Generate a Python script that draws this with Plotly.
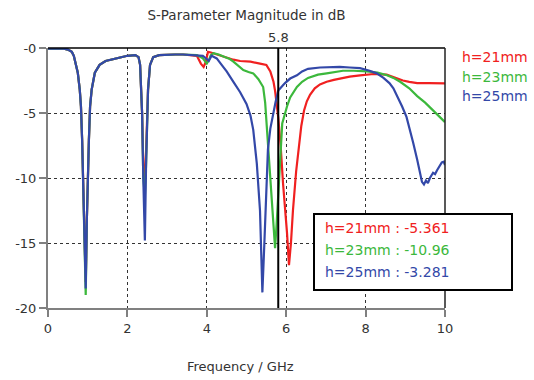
import plotly.graph_objects as go

# ---------------- data ----------------
title_text = "S-Parameter Magnitude in dB"
x_title = "Frequency / GHz"
series_names = ["h=21mm", "h=23mm", "h=25mm"]
series_colors = ["#f02020", "#3cb83c", "#3348a8"]
marker_freq = 5.8
marker_values = ["-5.361", "-10.96", "-3.281"]

x_ticks = [0, 2, 4, 6, 8, 10]
y_ticks = [0, -5, -10, -15, -20]
y_tick_labels = ["-0", "-5", "-10", "-15", "-20"]

# shared low-frequency part (0 - 3.75 GHz)
freq_low = [0, 0.2, 0.4, 0.5, 0.6, 0.65, 0.7, 0.75, 0.8, 0.83, 0.86, 0.88, 0.92,
            0.95, 0.98, 1.0, 1.03, 1.06, 1.1, 1.18, 1.3, 1.45, 1.7, 2.0, 2.2,
            2.28, 2.32, 2.35, 2.37, 2.4, 2.44, 2.47, 2.5, 2.52, 2.57, 2.65,
            2.8, 3.0, 3.2, 3.4, 3.6, 3.75]
low_21 = [-0.05, -0.05, -0.05, -0.12, -0.3, -0.6, -1.3, -1.9, -3.2, -4.5, -7.1, -10, -15,
          -18.0, -13, -10, -7.1, -4.5, -3.2, -1.9, -1.3, -1.0, -0.8, -0.6, -0.55,
          -0.7, -1.3, -3.2, -5, -9, -10.0, -8, -5, -3.2, -1.3, -0.7,
          -0.55, -0.5, -0.5, -0.5, -0.55, -0.6]
low_23 = [-0.05, -0.05, -0.05, -0.12, -0.3, -0.6, -1.3, -1.9, -3.2, -4.5, -7.1, -10, -15,
          -19.0, -13, -10, -7.1, -4.5, -3.2, -1.9, -1.3, -1.0, -0.8, -0.6, -0.55,
          -0.7, -1.3, -3.2, -5, -10, -11.4, -9, -5, -3.2, -1.3, -0.7,
          -0.55, -0.5, -0.5, -0.5, -0.55, -0.55]
low_25 = [-0.05, -0.05, -0.05, -0.12, -0.3, -0.6, -1.3, -1.9, -3.2, -4.5, -7.1, -10, -15,
          -18.5, -13, -10, -7.1, -4.5, -3.2, -1.9, -1.3, -1.0, -0.8, -0.6, -0.55,
          -0.7, -1.3, -3.2, -5, -10, -14.8, -9, -5, -3.2, -1.3, -0.7,
          -0.55, -0.5, -0.5, -0.5, -0.55, -0.55]

# high-frequency parts
freq_21 = [3.85, 3.92, 3.97, 4.03, 4.1, 4.2, 4.4, 4.67, 4.84, 5.1, 5.34, 5.5, 5.6,
           5.68, 5.72, 5.77, 5.8, 5.86, 5.92, 6.02, 6.07, 6.12, 6.17, 6.25, 6.32,
           6.38, 6.45, 6.52, 6.6, 6.72, 6.85, 7.02, 7.2, 7.43, 7.6, 7.86, 8.2,
           8.53, 8.7, 8.94, 9.1, 9.3, 9.6, 10]
val_21 = [-1.2, -1.45, -1.1, -0.3, -0.35, -0.45, -0.65, -0.9, -1.0, -1.05, -1.2, -1.3, -1.8,
          -2.6, -3.3, -4.6, -5.36, -7.5, -10.4, -14.2, -16.7, -15.0, -12.5, -9.5, -7.3,
          -6.0, -4.8, -4.1, -3.6, -3.1, -2.8, -2.6, -2.45, -2.3, -2.2, -2.1, -2.0,
          -2.05, -2.25, -2.5, -2.6, -2.7, -2.7, -2.72]

freq_23 = [3.9, 3.97, 4.0, 4.05, 4.1, 4.17, 4.3, 4.45, 4.58, 4.67, 4.8, 4.92, 5.05,
           5.17, 5.3, 5.42, 5.47, 5.52, 5.6, 5.66, 5.72, 5.76, 5.8, 5.84, 5.9,
           6.02, 6.1, 6.27, 6.4, 6.55, 6.8, 7.02, 7.43, 7.7, 8.03, 8.3, 8.54,
           8.7, 8.87, 9.1, 9.3, 9.5, 9.7, 9.85, 10]
val_23 = [-0.8, -1.1, -1.2, -0.95, -0.55, -0.4, -0.5, -0.7, -0.85, -1.05, -1.4, -1.7, -1.85,
          -1.95, -2.4, -3.0, -4.2, -6.5, -9.9, -13.0, -15.4, -13.5, -10.96, -9.1, -5.8,
          -4.5, -3.8, -3.0, -2.6, -2.3, -2.05, -1.95, -1.75, -1.75, -1.8, -1.9, -2.1,
          -2.3, -2.6, -3.1, -3.7, -4.2, -4.8, -5.2, -5.7]

freq_25 = [3.9, 4.0, 4.05, 4.12, 4.2, 4.25, 4.35, 4.5, 4.67, 4.84, 5.0, 5.1, 5.17,
           5.22, 5.26, 5.34, 5.4, 5.45, 5.5, 5.54, 5.6, 5.67, 5.73, 5.8, 5.97,
           6.1, 6.27, 6.4, 6.55, 6.85, 7.1, 7.35, 7.6, 7.86, 8.1, 8.28, 8.45,
           8.6, 8.7, 8.8, 8.92, 9.03, 9.12, 9.2, 9.3, 9.37, 9.42, 9.47, 9.52,
           9.57, 9.62, 9.7, 9.75, 9.8, 9.87, 9.92, 9.97, 10]
val_25 = [-0.6, -0.85, -1.0, -0.6, -0.7, -0.8, -1.2, -1.8, -2.6, -3.4, -4.3, -5.2, -6.3,
          -7.5, -8.9, -12.5, -18.8, -15.0, -10.0, -7.8, -6.2, -5.0, -4.2, -3.28, -2.7,
          -2.35, -2.1, -1.8, -1.6, -1.5, -1.45, -1.45, -1.5, -1.55, -1.75, -1.95, -2.3,
          -2.7, -3.1, -3.7, -4.5, -5.3, -6.3, -7.3, -8.6, -9.6, -10.3, -10.5, -10.2,
          -10.4, -10.0, -9.6, -9.7, -9.4, -9.0, -8.8, -8.75, -9.0]

# ---------------- figure ----------------
FONT = "DejaVu Sans"
fig = go.Figure()

all_x = [freq_low + freq_21, freq_low + freq_23, freq_low + freq_25]
all_y = [low_21 + val_21, low_23 + val_23, low_25 + val_25]
for name, color, xs, ys in zip(series_names, series_colors, all_x, all_y):
    fig.add_trace(go.Scatter(x=xs, y=ys, mode="lines", name=name,
                             line=dict(color=color, width=2.2), showlegend=False))

grid_common = dict(showgrid=True, gridcolor="#333333", gridwidth=1, griddash="3px,3px",
                   zeroline=False, showline=True, linecolor="#808080", linewidth=2,
                   ticks="outside", ticklen=7, tickcolor="#808080", tickwidth=1.5,
                   automargin=False,
                   tickfont=dict(family=FONT, size=13, color="#333333"))

fig.update_layout(
    width=534, height=380,
    margin=dict(l=48, r=89, t=48, b=72, autoexpand=False),
    paper_bgcolor="white", plot_bgcolor="white",
    title=dict(text=title_text, x=(48 + 445) / 2 / 534, xanchor="center",
               y=1 - 15 / 380, yanchor="middle", yref="container",
               font=dict(family=FONT, size=13.5, color="#333333")),
    xaxis=dict(range=[0, 10], tickvals=x_ticks, **grid_common),
    yaxis=dict(range=[-20, 0], tickvals=y_ticks, ticktext=y_tick_labels, **grid_common),
    font=dict(family=FONT),
)

# top / right frame lines (black)
fig.add_shape(type="line", xref="paper", yref="paper", x0=0, x1=1, y0=1, y1=1,
              line=dict(color="black", width=1.5))
fig.add_shape(type="line", xref="paper", yref="paper", x0=1, x1=1, y0=0, y1=1,
              line=dict(color="#222222", width=1.5))

# marker line at 5.8 GHz
fig.add_shape(type="line", xref="x", yref="paper", x0=marker_freq, x1=marker_freq,
              y0=0, y1=1, line=dict(color="black", width=2))
fig.add_annotation(x=marker_freq, y=1, xref="x", yref="paper", yanchor="bottom",
                   text=f"{marker_freq}", showarrow=False, yshift=1,
                   font=dict(family=FONT, size=13, color="#333333"))

# x axis title
fig.add_annotation(x=(240 - 48) / 397, y=-(366 - 308) / 260, xref="paper", yref="paper",
                   text=x_title, showarrow=False, yanchor="middle",
                   font=dict(family=FONT, size=13, color="#333333"))

# legend texts on the right
for i, (name, color) in enumerate(zip(series_names, series_colors)):
    fig.add_annotation(x=1 + (460 - 445) / 397, y=1 - (57 + 19.5 * i - 48) / 260,
                       xref="paper", yref="paper", xanchor="left", yanchor="middle",
                       text=name, showarrow=False,
                       font=dict(family=FONT, size=14, color=color))

# marker readout box
box_x0, box_x1 = (314 - 48) / 397, (512 - 48) / 397
box_y0, box_y1 = (308 - 290) / 260, (308 - 214) / 260
fig.add_shape(type="rect", xref="paper", yref="paper", x0=box_x0, x1=box_x1,
              y0=box_y0, y1=box_y1, fillcolor="white",
              line=dict(color="black", width=2), layer="above")
for i, (name, color, val) in enumerate(zip(series_names, series_colors, marker_values)):
    fig.add_annotation(x=(323 - 48) / 397, y=1 - (228 + 22 * i - 48) / 260,
                       xref="paper", yref="paper", xanchor="left", yanchor="middle",
                       text=f"{name} : {val}", showarrow=False,
                       font=dict(family=FONT, size=14, color=color))

fig.write_html("out.html", config={"displayModeBar": False},
               post_script="document.body.style.margin='0';document.body.style.padding='0';")
